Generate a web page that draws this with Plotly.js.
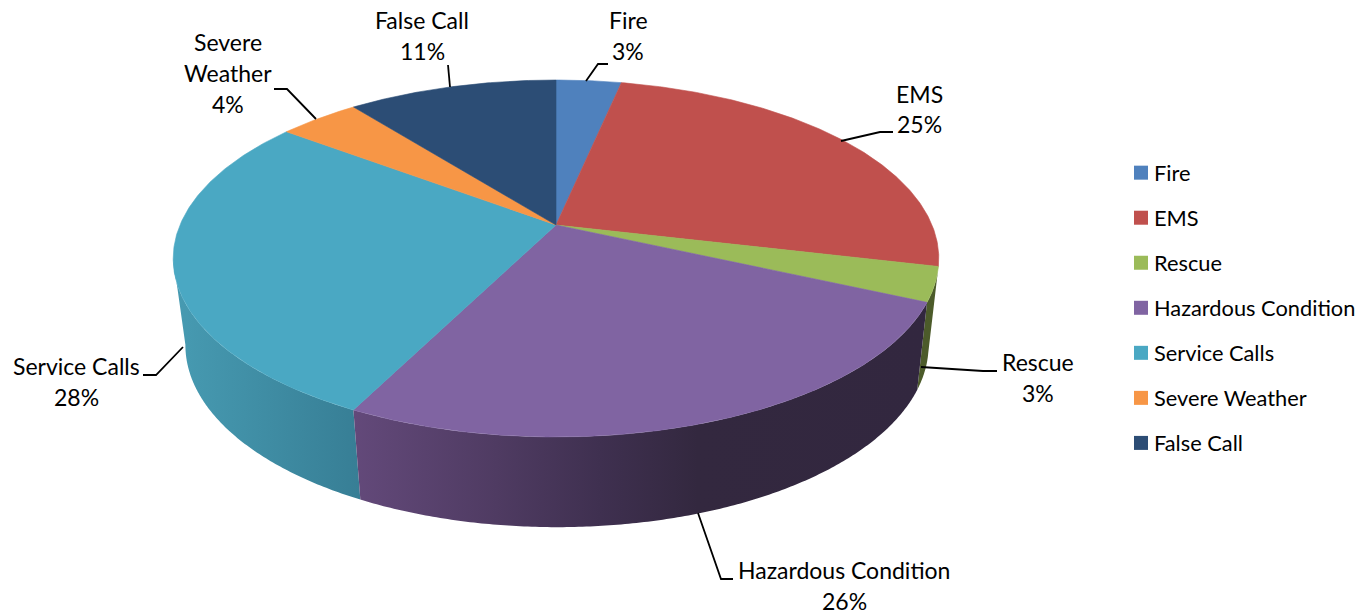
<!DOCTYPE html>
<html><head><meta charset="utf-8">
<script src="https://cdn.plot.ly/plotly-3.0.1.min.js"></script>
<style>html,body{margin:0;padding:0;background:#fff}</style></head>
<body><div id="chart" style="width:1364px;height:615px"></div>
<script>
// Data
const categories = ["Fire","EMS","Rescue","Hazardous Condition","Service Calls","Severe Weather","False Call"];
const shares = [3.3,25.4,3.1,25.6,27.9,4.1,10.6];
const topColors = ["#4F81BD","#C0504D","#9BBB59","#8064A2","#4AA8C3","#F79646","#2C4D75"];
const labelLines = {
  0:{x:628,y:[20,51],lines:["Fire"]},
  1:{x:919,y:[94,124],lines:["EMS"]},
  2:{x:1038,y:[362,393],lines:["Rescue"]},
  3:{x:844,y:[570,601],lines:["Hazardous Condition"]},
  4:{x:76,y:[366,397],lines:["Service Calls"]},
  5:{x:228,y:[42,73,104],lines:["Severe","Weather"]},
  6:{x:422,y:[20,51],lines:["False Call"]}
};
const leaders = [
  "M586,81 L598,64 L608,64",
  "M841,141 L880,132 L893,132",
  "M921,367 L983,371 L997,371",
  "M698,513 L721,579 L733,579",
  "M183,347 L156,375 L143,375",
  "M316,119 L287,89 L274,89",
  "M450,87 L448,65"
];
// Projection of the 3D pie: ring = circle in perspective
const K = 0.1877;
const topRing = {cx:556,cy:225,a:376,s:172.2};
const botRing = {cx:557,cy:311,a:365,s:175.6};
function proj(r,deg){
  const t=deg*Math.PI/180,u=Math.sin(t),v=-Math.cos(t),w=1-K*v;
  return [r.cx+r.a*u/w, r.cy+r.s*v/w];
}
function arc(r,d0,d1){
  const n=Math.max(2,Math.ceil(Math.abs(d1-d0)/0.5)),p=[];
  for(let i=0;i<=n;i++)p.push(proj(r,d0+(d1-d0)*i/n));
  return p;
}
const sideStyle = {
  2:[[0,"#4c5b2a"],[1,"#4c5b2a"]],
  3:[[0,"#63497a"],[0.25,"#4f3b62"],[0.43,"#3f3050"],[0.6,"#33283f"],[1,"#32273f"]],
  4:[[0,"#479bb2"],[1,"#377e95"]]
};
const SIDE_MIN=100.7, SIDE_MAX=259.3;
const traces=[];
let acc=0;
const spans=shares.map(s=>{const a=[acc*3.6,(acc+s)*3.6];acc+=s;return a;});
// side walls first
[2,4,3].forEach(i=>{
  const d0=Math.max(spans[i][0],SIDE_MIN),d1=Math.min(spans[i][1],SIDE_MAX);
  if(d1<=d0)return;
  const poly=arc(topRing,d0,d1).concat(arc(botRing,d1,d0));
  traces.push({type:"scatter",mode:"none",x:poly.map(p=>p[0]),y:poly.map(p=>p[1]),fill:"toself",
    fillgradient:{type:"horizontal",colorscale:sideStyle[i]},showlegend:false,hoverinfo:"skip"});
});
// top faces
categories.forEach((c,i)=>{
  const poly=[[topRing.cx,topRing.cy]].concat(arc(topRing,spans[i][0],spans[i][1]));
  poly.push([topRing.cx,topRing.cy]);
  traces.push({type:"scatter",mode:"lines",line:{width:0.6,color:topColors[i]},x:poly.map(p=>p[0]),y:poly.map(p=>p[1]),
    fill:"toself",fillcolor:topColors[i],name:c,showlegend:false,hoverinfo:"skip"});
});
// legend entries
categories.forEach((c,i)=>{
  traces.push({type:"scatter",mode:"markers",x:[null],y:[null],name:c,legendgroup:c,
    marker:{symbol:"square",size:14,color:topColors[i]},hoverinfo:"skip"});
});
const FONT="Lato, 'Open Sans', sans-serif";
const annotations=[];
categories.forEach((c,i)=>{
  const L=labelLines[i];
  const texts=L.lines.concat([Math.round(shares[i])+"%"]);
  texts.forEach((t,j)=>annotations.push({text:t,x:L.x,y:L.y[j],xref:"x",yref:"y",showarrow:false,
    xanchor:"center",yanchor:"middle",font:{family:FONT,size:23,color:"#000"}}));
});
const layout={
  width:1364,height:615,margin:{l:0,r:0,t:0,b:0},paper_bgcolor:"#fff",plot_bgcolor:"#fff",
  xaxis:{range:[0,1364],visible:false,fixedrange:true},
  yaxis:{range:[615,0],visible:false,fixedrange:true},
  showlegend:true,
  legend:{x:1129/1364,xanchor:"left",y:1-152/615,yanchor:"top",font:{family:FONT,size:21.8,color:"#000"},
    tracegroupgap:13.7,indentation:-15,itemclick:false,itemdoubleclick:false,bgcolor:"rgba(0,0,0,0)"},
  shapes:leaders.map(p=>({type:"path",path:p,xref:"x",yref:"y",line:{color:"#000",width:1.8}})),
  annotations
};
Plotly.newPlot("chart",traces,layout,{displayModeBar:false}).then(()=>{
  // legend swatches sit closer to their text than the library's fixed gap
  document.querySelectorAll("#chart .legendsymbols").forEach(g=>g.setAttribute("transform","translate(7,0)"));
});
</script></body></html>
